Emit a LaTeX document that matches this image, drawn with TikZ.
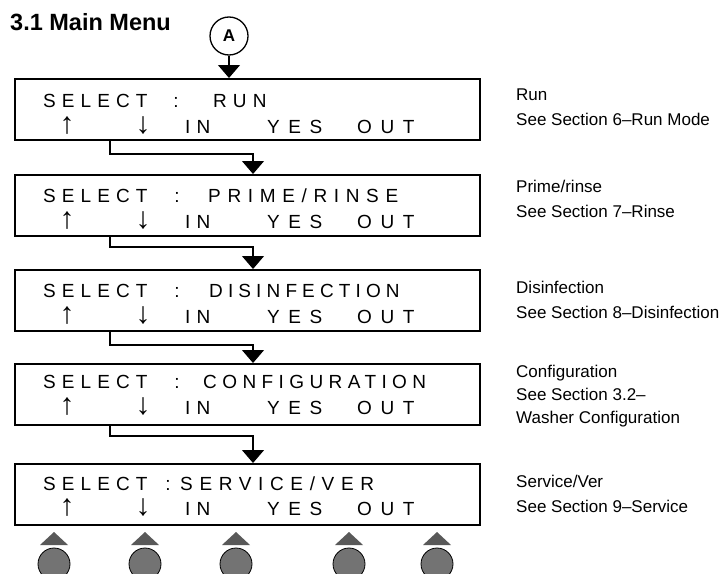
\documentclass[tikz,border=0pt]{standalone}
\usepackage{fontspec}
\setmainfont{Liberation Sans}
\usetikzlibrary{arrows.meta}

\tikzset{
  panel/.style={draw, line width=1.7pt, minimum width=465pt, minimum height=61pt,
    inner sep=0pt, anchor=north west},
  lcd/.style={anchor=base west, inner sep=0pt,
    font=\fontsize{19}{19}\selectfont\addfontfeature{LetterSpace=#1}},
  lcd/.default=32,
  lcdkey/.style={anchor=base, inner sep=0pt, font=\fontsize{19}{19}\selectfont},
  lcdarrow/.style={anchor=base, inner sep=0pt, font=\fontsize{30}{30}\selectfont},
  note/.style={anchor=base west, inner sep=0pt, font=\fontsize{17}{17}\selectfont},
  flow/.style={draw, line width=1.2pt, -{Triangle[width=22pt,length=13pt]}},
  keytip/.style={fill=black!65},
  keycap/.style={fill=black!55, draw=black, line width=0.8pt},
}

\begin{document}
\begin{tikzpicture}[x=1pt,y=-1pt]
\useasboundingbox (0,0) rectangle (719,573);

% heading and entry point
\node[anchor=base west, inner sep=0pt, font=\bfseries\fontsize{23.5}{23.5}\selectfont]
  (title) at (10,30.5) {3.1 Main Menu};
\node[circle, draw, line width=1.3pt, minimum size=38pt, inner sep=0pt,
  font=\bfseries\fontsize{17}{17}\selectfont] (A) at (229,36) {A};

% display panels
\node[panel] (b1) at (14,78) {};
\node[panel] (b2) at (14,174) {};
\node[panel] (b3) at (14,269) {};
\node[panel] (b4) at (14,363) {};
\node[panel] (b5) at (14,463) {};

% first display line of each panel
\node[lcd] (s1) at (43,107) {SELECT};
\node[lcdkey] (c1) at (176,107) {:};
\node[lcd] (w1) at (213,107) {RUN};

\node[lcd] (s2) at (43,202) {SELECT};
\node[lcdkey] (c2) at (177,202) {:};
\node[lcd=35] (w2) at (208,202) {PRIME/RINSE};

\node[lcd] (s3) at (43,297) {SELECT};
\node[lcdkey] (c3) at (177,297) {:};
\node[lcd=27] (w3) at (209,297) {DISINFECTION};

\node[lcd] (s4) at (43,388) {SELECT};
\node[lcdkey] (c4) at (177,388) {:};
\node[lcd=28.5] (w4) at (203,388) {CONFIGURATION};

\node[lcd] (s5) at (43,490) {SELECT};
\node[lcdkey] (c5) at (168,490) {:};
\node[lcd=35] (w5) at (180,490) {SERVICE/VER};

% second display line: soft key legends
\foreach \n/\yb in {1/133, 2/228, 3/323, 4/414, 5/515} {
  \node[lcdarrow] (up\n) at (67,\yb) {↑};
  \node[lcdarrow] (dn\n) at (143,\yb) {↓};
  \node[lcd] (in\n) at (185,\yb) {IN};
  \node[lcd=45] (ys\n) at (267,\yb) {YES};
  \node[lcd=45] (ot\n) at (357,\yb) {OUT};
}

% flow between panels
\coordinate (drop) at (253,0);
\coordinate (k1) at (110,154);
\coordinate (k2) at (110,247);
\coordinate (k3) at (110,345);
\coordinate (k4) at (110,436);
\draw[flow] (A.south) -- (b1.north -| A);
\draw[flow] (b1.south -| k1) -- (k1) -| (b2.north -| drop);
\draw[flow] (b2.south -| k2) -- (k2) -| (b3.north -| drop);
\draw[flow] (b3.south -| k3) -- (k3) -| (b4.north -| drop);
\draw[flow] (b4.south -| k4) -- (k4) -| (b5.north -| drop);

% references on the right
\node[note] (r1a) at (516,100) {Run};
\node[note] (r1b) at (516,125) {See Section 6–Run Mode};
\node[note] (r2a) at (516,192) {Prime/rinse};
\node[note] (r2b) at (516,217) {See Section 7–Rinse};
\node[note] (r3a) at (516,293) {Disinfection};
\node[note] (r3b) at (516,318) {See Section 8–Disinfection};
\node[note] (r4a) at (516,377) {Configuration};
\node[note] (r4b) at (516,400) {See Section 3.2–};
\node[note] (r4c) at (516,423) {Washer Configuration};
\node[note] (r5a) at (516,487) {Service/Ver};
\node[note] (r5b) at (516,512) {See Section 9–Service};

% keypad buttons under the display
\foreach \bx in {54,145,236,349,437} {
  \fill[keytip] (\bx-14,545) -- (\bx+14,545) -- (\bx,532) -- cycle;
  \path[keycap] (\bx,564) circle[radius=16pt];
}
\end{tikzpicture}
\end{document}
